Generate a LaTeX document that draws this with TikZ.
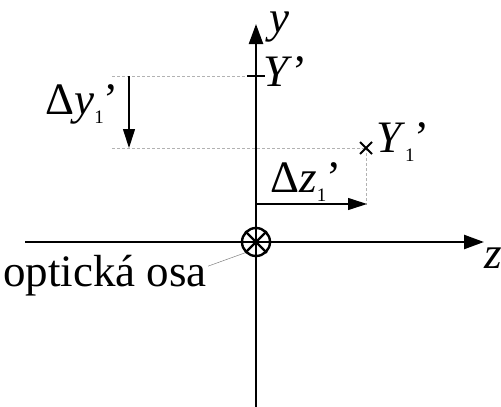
\documentclass[tikz,border=0pt]{standalone}
\usepackage{fontspec}
\setmainfont{Liberation Serif}
\usepackage{tikz}
\usetikzlibrary{calc, arrows.meta}

% maly index a carka
\newcommand{\ix}[1]{\raisebox{-0.22em}{\fontsize{19}{19}\selectfont #1}}

\begin{document}
\begin{tikzpicture}[
    x=1pt, y=-1pt,
    axis/.style={line width=2.4pt, black, -{Triangle[length=20pt, width=14pt]}},
    guide/.style={densely dashed, gray!60, line width=0.6pt},
    posun/.style={line width=1.1pt, black, -{Triangle[length=19pt, width=12pt]}},
    lbl/.style={font=\fontsize{45}{50}\selectfont, inner sep=0pt}
]
    \useasboundingbox (0,0) rectangle (501,407);

    % Pocatek a osy
    \coordinate (O) at (256,242);
    \coordinate (Ytop) at (256,24);
    \coordinate (Ybot) at (256,407);
    \coordinate (Zleft) at (25,242);
    \coordinate (Zright) at (484,242);

    % Body
    \coordinate (Yp) at (256,76);
    \coordinate (Y1) at (366,148);
    \coordinate (Lup) at (112,76);
    \coordinate (Ldown) at (112,148);

    % Pomocne prerusovane cary
    \draw[guide] (Lup) -- (Yp);
    \draw[guide] (Ldown) -- (Y1);
    \draw[guide] (Y1) -- ($(Y1)+(0,57)$);

    % Osy
    \draw[axis] (Ybot) -- (Ytop);
    \draw[axis] (Zleft) -- (Zright);
    \node[lbl, font=\fontsize{45}{50}\selectfont\itshape] (ylab) at (279,27) {y};
    \node[lbl, font=\fontsize{45}{50}\selectfont\itshape, anchor=west] (zlab) at (484,258) {z};

    % Znacka Y'
    \draw[line width=2.2pt] ($(Yp)+(-9,0)$) -- ($(Yp)+(9,0)$);
    \node[lbl, anchor=west] (Ylab) at (263,72) {\textit{Y}’};

    % Krizek Y1'
    \draw[line width=2pt] ($(Y1)+(-6,-6)$) -- ($(Y1)+(6,6)$)
                          ($(Y1)+(-6,6)$) -- ($(Y1)+(6,-6)$);
    \node[lbl, anchor=west] (Y1lab) at (376,142) {\textit{Y}\ix{1}’};

    % Posuny
    \coordinate (dyA) at (129,76);
    \coordinate (dyB) at (129,148);
    \draw[posun] (dyA) -- (dyB);
    \node[lbl, anchor=east] (dylab) at (119,104) {Δ\textit{y}\ix{1}’};

    \coordinate (dzA) at (256,204);
    \coordinate (dzB) at (367,204);
    \draw[posun] (dzA) -- (dzB);
    \node[lbl] (dzlab) at (306,182) {Δ\textit{z}\ix{1}’};

    % Opticka osa
    \node[draw, circle, line width=2.4pt, minimum size=28pt, inner sep=0pt] (osa) at (O) {};
    \draw[line width=2.2pt] (osa.north west) -- (osa.south east)
                            (osa.north east) -- (osa.south west);
    \node[lbl, anchor=base west] (osalab) at (3,286) {optická osa};
    \draw[gray, line width=0.5pt] (osalab.east) ++(1,-9) coordinate (osaend) -- (osa.south west);
\end{tikzpicture}
\end{document}
